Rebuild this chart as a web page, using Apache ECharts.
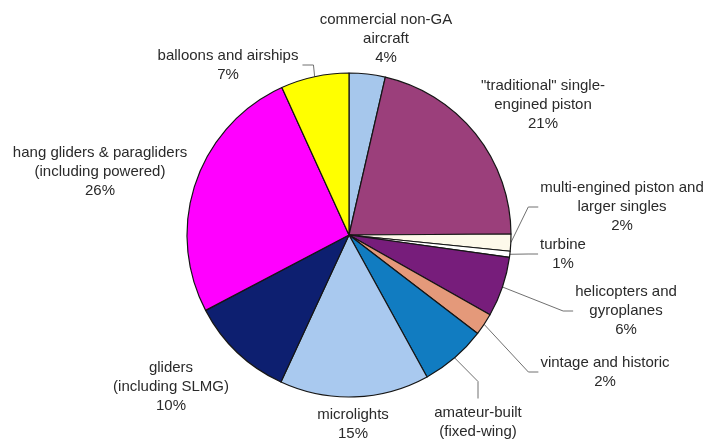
<!DOCTYPE html>
<html>
<head>
<meta charset="utf-8">
<script src="https://cdn.jsdelivr.net/npm/echarts@6/dist/echarts.min.js"></script>
<style>
html,body{margin:0;padding:0;background:#fff;}
#chart{width:715px;height:440px;}
</style>
</head>
<body>
<div id="chart"></div>
<script>
// ---- data ----
var categories = [
  'commercial non-GA\naircraft',
  '"traditional" single-\nengined piston',
  'multi-engined piston and\nlarger singles',
  'turbine',
  'helicopters and\ngyroplanes',
  'vintage and historic',
  'amateur-built\n(fixed-wing)',
  'microlights',
  'gliders\n(including SLMG)',
  'hang gliders & paragliders\n(including powered)',
  'balloons and airships'
];
var shares = [3.6, 21.3, 1.7, 0.6, 6.0, 2.2, 6.6, 14.9, 10.4, 25.9, 6.8];

// ---- styling / layout (not data) ----
var colors = ['#a6c7ec', '#9b3f7b', '#fdf9ea', '#ffffff', '#771d7b', '#e4997a',
              '#117cc1', '#a9c9ef', '#0d1f70', '#ff00ff', '#ffff00'];
var labelPos = [[386, 39], [543, 105], [622, 207], [563, 254], [626, 311], [605, 372],
                [478, 432], [353, 424], [171, 387], [100, 172], [228, 65]];
var lineSide = [null, null, 'left', 'left', 'left', 'left', 'top', null, null, null, 'right'];
var CX = 349, CY = 235, R = 162;

var total = shares.reduce(function (a, b) { return a + b; }, 0);
var cum = [], acc = 0;
shares.forEach(function (v) { cum.push(acc + v / 2); acc += v; });

var chart = echarts.init(document.getElementById('chart'), null, {renderer: 'canvas'});
var option = {
  backgroundColor: '#ffffff',
  animation: false,
  series: [{
    type: 'pie',
    center: [CX, CY],
    radius: [0, R],
    startAngle: 90,
    clockwise: true,
    avoidLabelOverlap: false,
    emphasis: {disabled: true},
    itemStyle: {borderColor: '#151515', borderWidth: 1.2},
    label: {
      show: true,
      position: 'outside',
      fontFamily: '"Liberation Sans", Arial, sans-serif',
      fontSize: 15,
      lineHeight: 19,
      color: '#2a2a2a',
      align: 'center',
      formatter: function (p) {
        return p.name + '\n' + Math.round(p.value / total * 100) + '%';
      }
    },
    labelLine: {show: true, smooth: false, lineStyle: {color: '#707070', width: 1}},
    labelLayout: function (params) {
      var i = params.dataIndex;
      var p = labelPos[i];
      var w = params.labelRect.width, h = params.labelRect.height;
      var res = {x: p[0], y: p[1], align: 'center', verticalAlign: 'middle'};
      var side = lineSide[i];
      if (side) {
        var th = cum[i] / total * Math.PI * 2;
        var e = [CX + R * Math.sin(th), CY - R * Math.cos(th)];
        var left = p[0] - w / 2, right = p[0] + w / 2, top = p[1] - h / 2;
        if (side === 'left') res.labelLinePoints = [e, [left - 12, p[1]], [left - 2, p[1]]];
        else if (side === 'right') res.labelLinePoints = [e, [right + 15, p[1]], [right + 4, p[1]]];
        else if (side === 'top') res.labelLinePoints = [e, [p[0], top - 22], [p[0], top - 5]];
      }
      return res;
    },
    data: categories.map(function (c, i) {
      return {
        name: c,
        value: shares[i],
        itemStyle: {color: colors[i]},
        labelLine: {show: !!lineSide[i]}
      };
    })
  }]
};
chart.setOption(option);
</script>
</body>
</html>
